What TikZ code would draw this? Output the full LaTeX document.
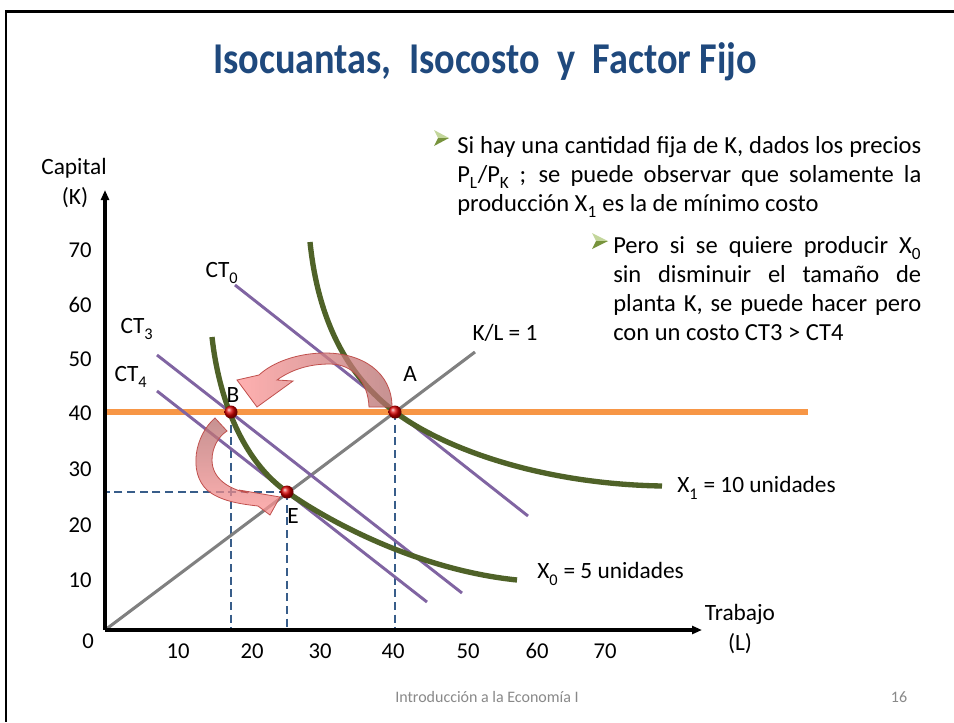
\documentclass[tikz,border=0pt]{standalone}
\usepackage{fontspec}
\setmainfont{Carlito}
\usepackage{graphicx}
\usetikzlibrary{arrows.meta}
\definecolor{titleblue}{RGB}{31,73,125}
\definecolor{isoq}{RGB}{79,98,40}
\definecolor{isoc}{RGB}{128,100,162}
\definecolor{fixk}{RGB}{247,150,70}
\definecolor{raycol}{RGB}{128,128,128}
\definecolor{guide}{RGB}{56,93,138}
\definecolor{arrowdark}{RGB}{180,110,110}
\definecolor{arrowlight}{RGB}{255,150,150}
\definecolor{arrowedge}{RGB}{192,80,77}
\definecolor{bulletlight}{RGB}{195,214,155}
\definecolor{bulletdark}{RGB}{119,147,60}
\definecolor{footgray}{RGB}{137,137,137}
\newcommand{\lowsub}[1]{\raisebox{-0.25ex}{\textsubscript{#1}}}
\begin{document}
\begin{tikzpicture}[x=0.75pt,y=-0.75pt,
  axisline/.style={line width=2.3pt, -{Triangle[length=7.5pt,width=6pt]}},
  isoquant/.style={isoq, line width=4pt},
  isocost/.style={isoc, line width=2.2pt},
  guideline/.style={guide, line width=0.9pt, dash pattern=on 6pt off 3.5pt},
  lbl/.style={inner sep=0pt, font=\fontsize{17.5}{20}\selectfont},
  ticklbl/.style={inner sep=0pt, font=\fontsize{17}{20}\selectfont},
  para/.style={inner sep=0pt, align=justify, font=\fontsize{18.4}{21.75}\selectfont, anchor=base west},
  turn/.style={draw=arrowedge, line width=0.6pt, fill opacity=0.75},
  dot/.style={ball color=red!85!black},
  bulletup/.style={fill=bulletlight},
  bulletdown/.style={fill=bulletdark}
]
\useasboundingbox (0,0) rectangle (954,722);
\fill[white] (0,0) rectangle (954,722);
\draw[line width=2.2pt] (954,11.5) -- (6,11.5) -- (6,722);

% title
\node[font=\fontsize{33}{40}\selectfont\bfseries, text=titleblue, inner sep=0pt] (title) at (485,62)
  {\scalebox{0.87}[1]{Isocuantas,\ \ Isocosto\ \ y\ \ Factor Fijo}};

% bullets and paragraphs
\coordinate (b1tip) at (449,138); \coordinate (b1top) at (434,130);
\coordinate (b1notch) at (438,138); \coordinate (b1bot) at (434,146);
\fill[bulletup] (b1tip) -- (b1top) -- (b1notch) -- cycle;
\fill[bulletdown] (b1tip) -- (b1notch) -- (b1bot) -- cycle;
\node[para, text width=348pt] (p1) at (457,153)
  {Si hay una cantidad fija de K, dados los precios\linebreak
   P\lowsub{L}/P\lowsub{K} ; se puede observar que solamente la\linebreak
   producción X\lowsub{1} es la de mínimo costo};

\coordinate (b2tip) at (608,241); \coordinate (b2top) at (592,233);
\coordinate (b2notch) at (596,241); \coordinate (b2bot) at (592,249);
\fill[bulletup] (b2tip) -- (b2top) -- (b2notch) -- cycle;
\fill[bulletdown] (b2tip) -- (b2notch) -- (b2bot) -- cycle;
\node[para, text width=231pt] (p2) at (613,253)
  {Pero si se quiere producir X\lowsub{0}\linebreak
   sin disminuir el tamaño de\linebreak
   planta K, se puede hacer pero\linebreak
   con un costo CT3 > CT4};

% key coordinates
\coordinate (O) at (105,630);
\coordinate (ytop) at (105,190);
\coordinate (xend) at (702,630);
\coordinate (A) at (395,412);
\coordinate (B) at (231,412);
\coordinate (E) at (287,492);
\coordinate (kfix0) at (105,412);
\coordinate (kfix1) at (808,412);
\coordinate (rayend) at (475,352);
\coordinate (ct0a) at (235,285); \coordinate (ct0b) at (528,516);
\coordinate (ct3a) at (157,355); \coordinate (ct3b) at (462,593);
\coordinate (ct4a) at (157,391); \coordinate (ct4b) at (427,602);
\coordinate (x1top) at (310,242); \coordinate (x1end) at (662,486);
\coordinate (x0top) at (212,337); \coordinate (x0end) at (517,580);

% guides
\draw[guideline] (A) -- (A |- O);
\draw[guideline] (B) -- (B |- O);
\draw[guideline] (E) -- (E |- O);
\draw[guideline] (E) -- (E -| O);

% fixed capital and ray
\draw[fixk, line width=4pt] (kfix0) -- (kfix1);
\draw[raycol, line width=2.3pt] (O) -- (rayend);

% isocost lines
\draw[isocost] (ct0a) -- (ct0b);
\draw[isocost] (ct3a) -- (ct3b);
\draw[isocost] (ct4a) -- (ct4b);

% isoquants
\draw[isoquant] (x1top) .. controls (318,320) and (347,376) .. (A)
  .. controls (443,448) and (540,484) .. (x1end);
\draw[isoquant] (x0top) .. controls (219,400) and (243,461) .. (E)
  .. controls (331,523) and (420,570) .. (x0end);

% axes
\draw[axisline] (O) -- (ytop);
\draw[axisline] (O) -- (xend);

% curved arrows
\path[turn, left color=arrowlight, right color=arrowdark]
  (392,407) .. controls (392,372) and (362,353) .. (325,353)
  .. controls (298,353) and (273,362) .. (259,375)
  -- (237,380) -- (257,407) -- (293,381) -- (277,380)
  .. controls (291,370) and (308,364) .. (330,364)
  .. controls (353,364) and (368,382) .. (369,407) -- cycle;
\path[turn, top color=arrowdark, bottom color=arrowlight]
  (215,418) .. controls (195,435) and (188,472) .. (207,490)
  .. controls (220,501) and (240,504) .. (258,506)
  -- (270,515) -- (280,497) -- (239,490) -- (248,493)
  .. controls (228,489) and (212,478) .. (212,460)
  .. controls (212,447) and (219,436) .. (227,431) -- cycle;

% points
\shade[dot] (A) circle [radius=6.5];
\shade[dot] (B) circle [radius=6.5];
\shade[dot] (E) circle [radius=6.5];

% labels
\node[lbl] (capital) at (74,168) {Capital};
\node[lbl] (klab) at (75,198) {(K)};
\node[lbl] (trabajo) at (740,614) {Trabajo};
\node[lbl] (llab) at (740,644) {(L)};
\node[ticklbl] (zero) at (88,641) {0};
\node[ticklbl] (y70) at (80,250) {70};
\node[ticklbl] (y60) at (80,305) {60};
\node[ticklbl] (y50) at (80,359) {50};
\node[ticklbl] (y40) at (80,413) {40};
\node[ticklbl] (y30) at (80,469) {30};
\node[ticklbl] (y20) at (80,525) {20};
\node[ticklbl] (y10) at (80,580) {10};
\node[ticklbl] (x10) at (178,651) {10};
\node[ticklbl] (x20) at (252,651) {20};
\node[ticklbl] (x30) at (320,651) {30};
\node[ticklbl] (x40) at (393,651) {40};
\node[ticklbl] (x50) at (468,651) {50};
\node[ticklbl] (x60) at (537,651) {60};
\node[ticklbl] (x70) at (605,651) {70};
\node[lbl] (ct0l) at (222,273) {CT\lowsub{0}};
\node[lbl] (ct3l) at (137,329) {CT\lowsub{3}};
\node[lbl] (ct4l) at (131,377) {CT\lowsub{4}};
\node[lbl] (al) at (410,374) {A};
\node[lbl] (bl) at (233,395) {B};
\node[lbl] (el) at (293,516) {E};
\node[lbl] (kl) at (505,333) {K/L = 1};
\node[lbl, anchor=west] (x1l) at (677,488) {X\lowsub{1} = 10 unidades};
\node[lbl, anchor=west] (x0l) at (537,574) {X\lowsub{0} = 5 unidades};

% footer
\node[font=\fontsize{12}{14}\selectfont, text=footgray, inner sep=0pt] (footer) at (487,697) {Introducción a la Economía I};
\node[font=\fontsize{12}{14}\selectfont, text=footgray, inner sep=0pt] (pagenum) at (899,697) {16};
\end{tikzpicture}
\end{document}
